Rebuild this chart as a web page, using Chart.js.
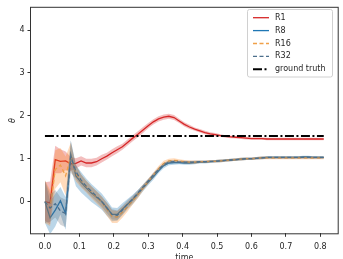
<!DOCTYPE html>
<html>
<head>
<meta charset="utf-8">
<script src="https://cdn.jsdelivr.net/npm/chart.js@4.4.0/dist/chart.umd.min.js"></script>
<style>
  html, body { margin: 0; padding: 0; background: #fff; }
  #wrap { width: 343px; height: 259px; }
</style>
</head>
<body>
<div id="wrap"><canvas id="chart" width="343" height="259"></canvas></div>
<script>
// --- datos ---
const time = [
  0.000, 0.015, 0.030, 0.045, 0.060, 0.075, 0.090, 0.105, 0.120, 0.135, 0.150,
  0.165, 0.180, 0.195, 0.210, 0.225, 0.240, 0.255, 0.270, 0.285, 0.300, 0.315,
  0.330, 0.345, 0.360, 0.375, 0.390, 0.405, 0.420, 0.435, 0.450, 0.465, 0.480,
  0.495, 0.510, 0.525, 0.540, 0.555, 0.570, 0.585, 0.600, 0.615, 0.630, 0.645,
  0.660, 0.675, 0.690, 0.705, 0.720, 0.735, 0.750, 0.765, 0.780, 0.795, 0.810
];

const r1 = [
  0.00, -0.03, 0.98, 0.94, 0.95, 0.88, 0.89, 0.95, 0.90, 0.90, 0.93,
  1.00, 1.06, 1.14, 1.21, 1.28, 1.38, 1.48, 1.57, 1.67, 1.77, 1.86,
  1.93, 1.97, 1.99, 1.96, 1.88, 1.80, 1.74, 1.69, 1.65, 1.61, 1.58,
  1.56, 1.54, 1.52, 1.51, 1.50, 1.49, 1.48, 1.47, 1.47, 1.47, 1.46,
  1.46, 1.46, 1.46, 1.46, 1.46, 1.46, 1.46, 1.46, 1.46, 1.46, 1.46
];
const r1Err = [
  0.45, 0.50, 0.32, 0.28, 0.22, 0.16, 0.12, 0.11, 0.10, 0.10, 0.09,
  0.09, 0.08, 0.08, 0.08, 0.07, 0.07, 0.07, 0.07, 0.07, 0.06, 0.06,
  0.06, 0.06, 0.06, 0.06, 0.05, 0.05, 0.05, 0.04, 0.04, 0.04, 0.04,
  0.04, 0.03, 0.03, 0.03, 0.03, 0.03, 0.03, 0.03, 0.03, 0.03, 0.03,
  0.03, 0.03, 0.03, 0.03, 0.03, 0.03, 0.03, 0.03, 0.03, 0.03, 0.03
];

const r8 = [
  0.00, -0.38, -0.20, 0.02, -0.28, 1.10, 0.60, 0.45, 0.32, 0.20, 0.10,
  0.00, -0.15, -0.30, -0.30, -0.18, -0.06, 0.05, 0.18, 0.32, 0.45, 0.58,
  0.72, 0.84, 0.90, 0.91, 0.91, 0.90, 0.90, 0.91, 0.92, 0.92, 0.93,
  0.94, 0.95, 0.96, 0.97, 0.98, 0.99, 1.00, 1.00, 1.01, 1.02, 1.03,
  1.03, 1.03, 1.03, 1.03, 1.03, 1.03, 1.04, 1.04, 1.03, 1.03, 1.03
];
const r8Err = [
  0.50, 0.38, 0.38, 0.32, 0.38, 0.32, 0.24, 0.24, 0.22, 0.21, 0.20,
  0.19, 0.18, 0.16, 0.15, 0.14, 0.12, 0.11, 0.09, 0.08, 0.07, 0.07,
  0.06, 0.06, 0.05, 0.05, 0.04, 0.04, 0.04, 0.04, 0.03, 0.03, 0.03,
  0.03, 0.03, 0.03, 0.03, 0.03, 0.03, 0.03, 0.03, 0.03, 0.03, 0.03,
  0.03, 0.03, 0.03, 0.03, 0.03, 0.03, 0.03, 0.03, 0.03, 0.03, 0.03
];

const r16 = [
  0.00, -0.15, 0.75, 0.85, 0.60, 1.05, 0.65, 0.48, 0.35, 0.22, 0.10,
  -0.02, -0.18, -0.35, -0.36, -0.25, -0.12, 0.02, 0.16, 0.32, 0.47, 0.62,
  0.77, 0.89, 0.95, 0.96, 0.95, 0.93, 0.92, 0.92, 0.93, 0.93, 0.94,
  0.94, 0.95, 0.96, 0.97, 0.98, 0.99, 1.00, 1.00, 1.01, 1.02, 1.02,
  1.02, 1.02, 1.02, 1.02, 1.02, 1.02, 1.02, 1.02, 1.02, 1.02, 1.02
];
const r16Err = [
  0.50, 0.42, 0.45, 0.40, 0.45, 0.32, 0.18, 0.15, 0.14, 0.14, 0.14,
  0.14, 0.15, 0.15, 0.14, 0.13, 0.11, 0.09, 0.08, 0.07, 0.06, 0.06,
  0.06, 0.06, 0.05, 0.05, 0.04, 0.04, 0.04, 0.04, 0.03, 0.03, 0.03,
  0.03, 0.03, 0.03, 0.03, 0.03, 0.03, 0.03, 0.03, 0.03, 0.03, 0.03,
  0.03, 0.03, 0.03, 0.03, 0.03, 0.03, 0.03, 0.03, 0.03, 0.03, 0.03
];

const r32 = [
  0.00, -0.15, -0.05, -0.22, -0.28, 1.05, 0.70, 0.50, 0.36, 0.24, 0.12,
  0.00, -0.15, -0.30, -0.32, -0.20, -0.06, 0.06, 0.20, 0.34, 0.48, 0.62,
  0.75, 0.86, 0.92, 0.93, 0.92, 0.92, 0.92, 0.92, 0.93, 0.93, 0.94,
  0.94, 0.95, 0.96, 0.97, 0.98, 0.99, 1.00, 1.00, 1.01, 1.02, 1.03,
  1.03, 1.03, 1.03, 1.03, 1.03, 1.03, 1.03, 1.03, 1.03, 1.03, 1.03
];
const r32Err = [
  0.50, 0.32, 0.32, 0.32, 0.32, 0.38, 0.17, 0.14, 0.12, 0.12, 0.12,
  0.12, 0.12, 0.12, 0.11, 0.10, 0.09, 0.08, 0.07, 0.06, 0.05, 0.05,
  0.04, 0.04, 0.04, 0.04, 0.03, 0.03, 0.03, 0.03, 0.03, 0.03, 0.03,
  0.03, 0.03, 0.03, 0.03, 0.03, 0.03, 0.03, 0.03, 0.03, 0.03, 0.03,
  0.03, 0.03, 0.03, 0.03, 0.03, 0.03, 0.03, 0.03, 0.03, 0.03, 0.03
];

// ground truth (constante)
const truthTime = [0.0, 0.81];
const truthValue = [1.53, 1.53];

const xTicks = [0.0, 0.1, 0.2, 0.3, 0.4, 0.5, 0.6, 0.7, 0.8];
const yTicks = [0, 1, 2, 3, 4];

const FONT = 'DejaVu Sans';
const TXT = '#262626';

// series: etiqueta, valores, error, color linea, color banda, guiones
const series = [
  { label: 'R1',  vals: r1,  errs: r1Err,  color: '#d62728', band: 'rgba(214,39,40,0.30)',  dash: [] },
  { label: 'R8',  vals: r8,  errs: r8Err,  color: '#1f77b4', band: 'rgba(31,119,180,0.30)', dash: [] },
  { label: 'R16', vals: r16, errs: r16Err, color: '#f0a048', band: 'rgba(255,127,14,0.28)', dash: [4, 2.5] },
  { label: 'R32', vals: r32, errs: r32Err, color: '#4c6f8c', band: 'rgba(95,105,115,0.28)', dash: [4, 2.5] }
];

const datasets = [];
function addDataset(ds) {
    ds.order = 100 - datasets.length; // lo ultimo queda encima, como matplotlib
    datasets.push(ds);
}

series.forEach(s => {
    addDataset({
        label: '',
        data: time.map((t, i) => ({ x: t, y: s.vals[i] - s.errs[i] })),
        borderWidth: 0, borderColor: 'transparent', pointRadius: 0, fill: false
    });
    addDataset({
        label: '',
        data: time.map((t, i) => ({ x: t, y: s.vals[i] + s.errs[i] })),
        borderWidth: 0, borderColor: 'transparent', pointRadius: 0,
        fill: '-1', backgroundColor: s.band
    });
    addDataset({
        label: s.label,
        data: time.map((t, i) => ({ x: t, y: s.vals[i] })),
        borderColor: s.color, borderWidth: 1.3, borderDash: s.dash,
        pointRadius: 0, fill: false, tension: 0
    });
});

addDataset({
    label: 'ground truth',
    data: truthTime.map((t, i) => ({ x: t, y: truthValue[i] })),
    borderColor: '#000000', borderWidth: 2, borderDash: [9, 2.5, 2, 2.5],
    pointRadius: 0, fill: false
});

// marco completo alrededor del area de la grafica
const frame = {
    id: 'frame',
    afterDatasetsDraw(chart) {
        const { left, top, right, bottom } = chart.chartArea;
        const c = chart.ctx;
        c.save();
        c.strokeStyle = '#333333';
        c.lineWidth = 1;
        c.strokeRect(left - 0.5, top - 0.5, right - left + 1, bottom - top + 1);
        c.restore();
    }
};

// leyenda dentro del grafico (estilo matplotlib)
const legendBox = {
    id: 'legendBox',
    afterDraw(chart) {
        const c = chart.ctx;
        const entries = chart.data.datasets.filter(d => d.label);
        c.save();
        c.fillStyle = 'rgba(255,255,255,0.85)';
        c.strokeStyle = '#d0d0d0';
        c.lineWidth = 1;
        c.beginPath();
        c.roundRect(247.5, 9.5, 85, 67.5, 2);
        c.fill();
        c.stroke();
        c.font = '8px "' + FONT + '"';
        c.textBaseline = 'middle';
        entries.forEach((d, i) => {
            const y = 17.7 + i * 12.9;
            c.strokeStyle = d.borderColor;
            c.lineWidth = d.borderWidth;
            c.setLineDash(d.borderDash || []);
            c.beginPath();
            c.moveTo(253, y);
            c.lineTo(269, y);
            c.stroke();
            c.setLineDash([]);
            c.fillStyle = TXT;
            c.fillText(d.label, 275, y);
        });
        c.restore();
    }
};

new Chart(document.getElementById('chart').getContext('2d'), {
    type: 'line',
    data: { datasets: datasets },
    options: {
        responsive: false,
        devicePixelRatio: 1,
        animation: false,
        layout: { padding: { left: 0, right: 5.3, top: 5, bottom: 0 } },
        plugins: {
            legend: { display: false },
            tooltip: { enabled: false }
        },
        scales: {
            x: {
                type: 'linear',
                min: -0.0405,
                max: 0.8505,
                afterBuildTicks: s => { s.ticks = xTicks.map(v => ({ value: v })); },
                afterFit: s => { s.height = 25.7; },
                ticks: {
                    callback: v => v.toFixed(1),
                    font: { family: FONT, size: 8 },
                    color: TXT,
                    padding: 5,
                    maxRotation: 0,
                    autoSkip: false
                },
                grid: { drawOnChartArea: false, tickLength: 3.5, color: '#333333' },
                border: { display: false },
                title: {
                    display: true,
                    text: 'time',
                    font: { family: FONT, size: 8 },
                    color: TXT,
                    padding: { top: 0, bottom: -4 }
                }
            },
            y: {
                min: -0.74,
                max: 4.52,
                afterBuildTicks: s => { s.ticks = yTicks.map(v => ({ value: v })); },
                afterFit: s => { s.width = 31; },
                ticks: {
                    callback: v => String(v),
                    font: { family: FONT, size: 8 },
                    color: TXT,
                    padding: 3
                },
                grid: { drawOnChartArea: false, tickLength: 3.5, color: '#333333' },
                border: { display: false },
                title: {
                    display: true,
                    text: 'θ',
                    font: { family: FONT, size: 8, style: 'italic' },
                    color: TXT,
                    padding: { top: 8, bottom: 0 }
                }
            }
        }
    },
    plugins: [frame, legendBox]
});
</script>
</body>
</html>
